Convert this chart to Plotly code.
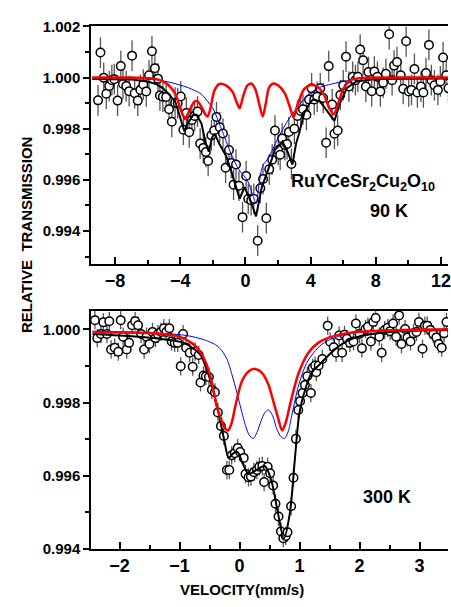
import plotly.graph_objects as go

# ---------------- data: top panel (90 K) ----------------
v90 = [-9.05, -8.90, -8.70, -8.54, -8.36, -8.20, -8.05, -7.85, -7.65, -7.52, -7.32, -7.14, -6.96, -6.80,
       -6.61, -6.45, -6.27, -6.09, -5.92, -5.74, -5.56, -5.37, -5.25, -5.07, -4.87, -4.69, -4.52, -4.32,
       -4.16, -3.97, -3.81, -3.63, -3.45, -3.29, -3.12, -2.94, -2.78, -2.59, -2.43, -2.29, -2.09, -1.92,
       -1.78, -1.58, -1.38, -1.22, -1.01, -0.87, -0.73, -0.58, -0.40, -0.18, 0.04, 0.17, 0.35, 0.51,
       0.75, 0.91, 1.08, 1.28, 1.46, 1.64, 1.81, 2.01, 2.13, 2.25, 2.42, 2.55, 2.66, 2.82, 3.00, 3.19,
       3.39, 3.53, 3.74, 3.90, 4.06, 4.22, 4.40, 4.59, 4.77, 4.95, 5.11, 5.32, 5.46, 5.66, 5.82, 6.00,
       6.17, 6.35, 6.58, 6.75, 6.90, 7.04, 7.22, 7.39, 7.55, 7.75, 7.91, 8.10, 8.28, 8.45, 8.62, 8.82,
       9.00, 9.12, 9.30, 9.53, 9.68, 9.86, 10.02, 10.19, 10.37, 10.55, 10.77, 10.92, 11.08, 11.26, 11.41,
       11.60, 11.81, 11.96, 12.13, 12.32, 12.46]
t90 = [0.99911, 1.00098, 0.99999, 0.99937, 0.99967, 0.99990, 0.99994, 0.99910, 1.00045, 0.99975, 0.99967,
       0.99947, 1.00086, 0.99939, 0.99910, 0.99952, 0.99973, 0.99946, 1.00009, 1.00103, 1.00037, 0.99996,
       0.99930, 0.99925, 0.99924, 0.99876, 0.99827, 0.99902, 0.99900, 0.99926, 0.99796, 0.99862, 0.99786,
       0.99834, 0.99850, 0.99867, 0.99742, 0.99725, 0.99709, 0.99674, 0.99774, 0.99793, 0.99846, 0.99806,
       0.99781, 0.99647, 0.99717, 0.99666, 0.99581, 0.99660, 0.99577, 0.99454, 0.99615, 0.99526, 0.99520,
       0.99526, 0.99362, 0.99567, 0.99603, 0.99450, 0.99641, 0.99679, 0.99793, 0.99717, 0.99698, 0.99762,
       0.99736, 0.99740, 0.99787, 0.99662, 0.99800, 0.99850, 0.99869, 0.99876, 0.99854, 0.99914, 0.99958,
       0.99914, 0.99925, 0.99958, 0.99920, 0.99745, 1.00045, 0.99895, 0.99780, 0.99793, 0.99932, 0.99970,
       1.00082, 0.99965, 1.00003, 0.99990, 1.00003, 1.00110, 1.00068, 0.99965, 1.00022, 0.99947, 1.00024,
       1.00003, 0.99946, 0.99980, 1.00015, 1.00170, 0.99990, 1.00047, 1.00061, 1.00009, 0.99956, 1.00142,
       0.99946, 0.99952, 1.00034, 0.99942, 0.99965, 0.99942, 1.00018, 1.00128, 0.99990, 0.99970, 0.99952,
       0.99985, 1.00079, 1.00009, 0.99958]
err90 = 0.0006

red90_v = [-9.4, -7.0, -5.5, -4.8, -4.3, -3.95, -3.7, -3.45, -3.15, -2.95, -2.7, -2.45, -2.32, -2.15, -1.9,
           -1.6, -1.2, -0.8, -0.55, -0.36, -0.15, 0.1, 0.35, 0.6, 0.85, 1.06, 1.25, 1.45, 1.7, 2.0, 2.4,
           2.7, 2.95, 3.2, 3.6, 4.0, 4.4, 4.8, 5.15, 5.42, 5.7, 6.0, 6.4, 7.0, 8.0, 12.45]
red90_t = [1.00000, 1.00000, 0.99995, 0.99975, 0.99935, 0.99870, 0.99838, 0.99870, 0.99905, 0.99908,
           0.99885, 0.99855, 0.99848, 0.99880, 0.99950, 0.99975, 0.99970, 0.99945, 0.99905, 0.99880,
           0.99925, 0.99968, 0.99977, 0.99955, 0.99895, 0.99848, 0.99900, 0.99962, 0.99977, 0.99970,
           0.99940, 0.99890, 0.99845, 0.99895, 0.99955, 0.99971, 0.99965, 0.99935, 0.99880, 0.99857,
           0.99900, 0.99955, 0.99988, 0.99998, 1.00000, 1.00000]

blk90_v = [-9.4, -7.0, -6.0, -5.5, -5.1, -4.7, -4.3, -4.0, -3.75, -3.5, -3.2, -3.0, -2.7, -2.45, -2.25,
           -2.05, -1.89, -1.6, -1.17, -0.9, -0.67, -0.36, -0.06, 0.3, 0.65, 0.85, 1.0, 1.36, 1.81, 2.27,
           2.55, 2.88, 3.1, 3.29, 3.6, 4.0, 4.2, 4.6, 5.0, 5.46, 5.8, 6.23, 6.8, 8.0, 12.45]
blk90_t = [0.99995, 0.99993, 0.99985, 0.99975, 0.99960, 0.99935, 0.99905, 0.99845, 0.99790, 0.99825,
           0.99855, 0.99855, 0.99820, 0.99745, 0.99710, 0.99765, 0.99781, 0.99740, 0.99691, 0.99640,
           0.99590, 0.99526, 0.99571, 0.99520, 0.99457, 0.99530, 0.99571, 0.99634, 0.99717, 0.99749,
           0.99715, 0.99660, 0.99740, 0.99781, 0.99860, 0.99907, 0.99915, 0.99905, 0.99870, 0.99831,
           0.99900, 0.99960, 0.99985, 0.99995, 0.99997]

blu90_v = [-9.4, -6.0, -4.8, -3.5, -2.7, -2.3, -2.0, -1.48, -0.87, -0.4, 0.1, 0.45, 0.65, 0.85, 1.06, 1.4,
           1.97, 2.58, 3.19, 3.8, 4.4, 5.5, 6.8, 8.0, 12.45]
blu90_t = [1.00000, 0.99995, 0.99984, 0.99960, 0.99935, 0.99905, 0.99880, 0.99800, 0.99700, 0.99640,
           0.99600, 0.99540, 0.99507, 0.99590, 0.99655, 0.99685, 0.99760, 0.99830, 0.99885, 0.99928,
           0.99958, 0.99978, 0.99994, 1.00000, 1.00000]

# ---------------- data: bottom panel (300 K) ----------------
v300 = [-2.41, -2.37, -2.31, -2.27, -2.21, -2.17, -2.14, -2.08, -2.02, -1.98, -1.94, -1.88, -1.84, -1.79,
        -1.74, -1.69, -1.64, -1.59, -1.55, -1.50, -1.45, -1.40, -1.36, -1.31, -1.26, -1.22, -1.17, -1.13,
        -1.08, -1.03, -0.98, -0.94, -0.89, -0.83, -0.78, -0.74, -0.68, -0.65, -0.60, -0.56, -0.51, -0.46,
        -0.41, -0.36, -0.31, -0.26, -0.21, -0.17, -0.13, -0.08, -0.03, 0.01, 0.07, 0.10, 0.15, 0.19, 0.24,
        0.29, 0.33, 0.38, 0.41, 0.47, 0.51, 0.56, 0.60, 0.65, 0.69, 0.73, 0.77, 0.80, 0.86, 0.90, 0.94,
        0.98, 1.01, 1.05, 1.09, 1.13, 1.19, 1.22, 1.26, 1.28, 1.32, 1.38, 1.47, 1.51, 1.57, 1.61, 1.66,
        1.71, 1.75, 1.79, 1.84, 1.90, 1.94, 2.00, 2.04, 2.10, 2.14, 2.19, 2.23, 2.27, 2.33, 2.37, 2.42,
        2.47, 2.51, 2.56, 2.61, 2.66, 2.70, 2.76, 2.80, 2.85, 2.90, 2.95, 2.99, 3.05, 3.09, 3.13, 3.18,
        3.23, 3.28, 3.32, 3.37, 3.41, 3.45]
t300 = [1.00025, 0.99976, 0.99987, 1.00019, 0.99987, 1.00022, 0.99945, 0.99950, 0.99939, 1.00025, 0.99980,
        0.99945, 0.99963, 1.00011, 1.00022, 1.00011, 0.99987, 0.99945, 0.99980, 0.99960, 0.99993, 0.99976,
        0.99987, 0.99993, 1.00003, 0.99993, 1.00003, 0.99967, 0.99963, 0.99963, 0.99899, 0.99987, 0.99950,
        0.99936, 0.99898, 0.99939, 0.99930, 0.99855, 0.99874, 0.99872, 0.99870, 0.99835, 0.99828, 0.99773,
        0.99736, 0.99709, 0.99616, 0.99616, 0.99656, 0.99662, 0.99676, 0.99665, 0.99649, 0.99605, 0.99596,
        0.99598, 0.99610, 0.99616, 0.99625, 0.99627, 0.99583, 0.99625, 0.99607, 0.99574, 0.99524, 0.99489,
        0.99448, 0.99430, 0.99436, 0.99446, 0.99517, 0.99595, 0.99701, 0.99780, 0.99804, 0.99826, 0.99848,
        0.99872, 0.99826, 0.99895, 0.99901, 0.99883, 0.99901, 0.99919, 1.00010, 0.99966, 0.99951, 0.99936,
        0.99983, 0.99936, 0.99985, 0.99974, 0.99963, 0.99967, 1.00016, 0.99987, 0.99948, 1.00001, 1.00007,
        0.99967, 1.00020, 1.00031, 0.99980, 0.99936, 0.99998, 1.00004, 0.99995, 1.00016, 0.99980, 1.00038,
        0.99960, 1.00001, 0.99978, 0.99967, 0.99989, 0.99993, 1.00020, 0.99947, 1.00010, 1.00010, 0.99998,
        0.99987, 0.99978, 0.99960, 0.99950, 0.99989, 1.00020]
err300 = 0.00025

red300_v = [-2.45, -1.5, -1.0, -0.8, -0.68, -0.55, -0.46, -0.38, -0.30, -0.24, -0.19, -0.13, -0.07, 0.04,
            0.15, 0.26, 0.38, 0.48, 0.57, 0.64, 0.71, 0.77, 0.85, 0.98, 1.14, 1.31, 1.5, 1.86, 2.5, 3.475]
red300_t = [0.99991, 0.99990, 0.99980, 0.99963, 0.99945, 0.99905, 0.99855, 0.99790, 0.99752, 0.99730,
            0.99724, 0.99745, 0.99790, 0.99858, 0.99885, 0.99892, 0.99880, 0.99850, 0.99800, 0.99760,
            0.99724, 0.99745, 0.99800, 0.99878, 0.99934, 0.99963, 0.99978, 0.99991, 0.99997, 1.00000]

blu300_v = [-2.45, -1.5, -0.88, -0.6, -0.4, -0.29, -0.2, -0.13, -0.04, 0.04, 0.10, 0.16, 0.23, 0.29, 0.36,
            0.42, 0.48, 0.55, 0.62, 0.69, 0.75, 0.81, 0.87, 0.93, 0.98, 1.06, 1.14, 1.31, 1.45, 1.78, 2.33,
            3.475]
blu300_t = [0.99995, 0.99991, 0.99983, 0.99972, 0.99958, 0.99941, 0.99915, 0.99879, 0.99825, 0.99773,
            0.99737, 0.99712, 0.99702, 0.99718, 0.99750, 0.99772, 0.99780, 0.99765, 0.99729, 0.99707,
            0.99702, 0.99720, 0.99764, 0.99810, 0.99844, 0.99885, 0.99914, 0.99950, 0.99967, 0.99987,
            0.99997, 1.00000]

blk300_v = [-2.45, -1.43, -0.93, -0.66, -0.55, -0.45, -0.35, -0.26, -0.18, -0.10, -0.03, 0.05, 0.15, 0.26,
            0.42, 0.53, 0.64, 0.74, 0.84, 0.92, 1.00, 1.11, 1.20, 1.34, 1.56, 1.78, 2.05, 2.6, 3.475]
blk300_t = [0.99987, 0.99976, 0.99963, 0.99932, 0.99892, 0.99840, 0.99773, 0.99702, 0.99649, 0.99662,
            0.99665, 0.99635, 0.99605, 0.99614, 0.99627, 0.99588, 0.99499, 0.99429, 0.99499, 0.99640,
            0.99773, 0.99844, 0.99880, 0.99905, 0.99941, 0.99967, 0.99983, 0.99994, 0.99998]

# ---------------- figure ----------------
W, H = 451, 607
L = 91
FONT = "Liberation Sans, Arial, sans-serif"
fig = go.Figure()

def add_panel(xa, ya, vx, ty, err, curves):
    fig.add_trace(go.Scatter(
        x=vx, y=ty, mode="markers", xaxis=xa, yaxis=ya, showlegend=False,
        marker=dict(symbol="circle", size=8.5, color="white", line=dict(color="black", width=1.5)),
        error_y=dict(type="constant", value=err, color="#555555", thickness=1.3, width=0),
    ))
    for cx, cy, col, w, shape in curves:
        fig.add_trace(go.Scatter(
            x=cx, y=cy, mode="lines", xaxis=xa, yaxis=ya, showlegend=False,
            line=dict(color=col, width=w, shape=shape, smoothing=0.8 if shape == "spline" else None),
        ))

add_panel("x", "y", v90, t90, err90, [
    (blu90_v, blu90_t, "#0000ff", 1, "spline"),
    (blk90_v, blk90_t, "black", 2, "linear"),
    (red90_v, red90_t, "#ff0000", 2.5, "spline"),
])
add_panel("x2", "y2", v300, t300, err300, [
    (blk300_v, blk300_t, "black", 2, "spline"),
    (blu300_v, blu300_t, "#0000ff", 1, "spline"),
    (red300_v, red300_t, "#ff0000", 2.5, "spline"),
])

xcommon = dict(showline=True, linecolor="black", linewidth=1.5, mirror=True, ticks="inside",
               ticklen=7, tickwidth=1.5, tickcolor="black", showgrid=False, zeroline=False,
               ticklabeloverflow="allow",
               tickfont=dict(family=FONT, size=18, color="black", weight="bold"))
ycommon = dict(showline=True, linecolor="black", linewidth=1.5, mirror=False, ticks="outside",
               ticklen=6, tickwidth=1.5, tickcolor="black", showgrid=False, zeroline=False,
               tickformat=".3f", dtick=0.002,
               tickfont=dict(family=FONT, size=15, color="black", weight="bold"),
               minor=dict(dtick=0.001, ticks="outside", ticklen=4, tickwidth=1.5, tickcolor="black"))

top_dom = [1 - 262 / H, 1 - 18 / H]
bot_dom = [1 - 555.7 / H, 1 - 310.7 / H]

fig.update_layout(
    width=W, height=H, margin=dict(l=L, r=0, t=0, b=0),
    paper_bgcolor="white", plot_bgcolor="white",
    xaxis=dict(xcommon, domain=[0, 1], range=[-9.48, 12.43], dtick=4, tick0=0, anchor="y",
               minor=dict(dtick=2, tick0=0, ticks="inside", ticklen=4, tickwidth=1.5, tickcolor="black")),
    yaxis=dict(ycommon, domain=top_dom, range=[0.99272, 1.002], anchor="x"),
    xaxis2=dict(xcommon, domain=[0, 1], range=[-2.475, 3.475], dtick=1, tick0=0, anchor="y2",
                minor=dict(dtick=0.5, tick0=0, ticks="inside", ticklen=4, tickwidth=1.5, tickcolor="black")),
    yaxis2=dict(ycommon, domain=bot_dom, range=[0.994, 1.0005], anchor="x2"),
)

def px(x):
    return (x - L) / (W - L)

def py(y):
    return 1 - y / H

ann_font = dict(family=FONT, size=18, color="black", weight="bold")
fig.add_annotation(x=px(26), y=py(233), xref="paper", yref="paper", text="RELATIVE  TRANSMISSION",
                   textangle=-90, showarrow=False, xanchor="center", yanchor="middle",
                   font=dict(family=FONT, size=15, color="black", weight="bold"))
fig.add_annotation(x=px(243), y=py(597), xref="paper", yref="paper",
                   text="VELOCITY(mm/s)", showarrow=False, xanchor="center", yanchor="middle",
                   font=dict(family=FONT, size=15, color="black", weight="bold"))
fig.add_annotation(x=px(365), y=py(179), xref="paper", yref="paper",
                   text="RuYCeSr<sub>2</sub>Cu<sub>2</sub>O<sub>10</sub>", showarrow=False,
                   xanchor="center", yanchor="middle", font=ann_font)
fig.add_annotation(x=px(392), y=py(208), xref="paper", yref="paper",
                   text="90 K", showarrow=False, xanchor="center", yanchor="middle", font=ann_font)
fig.add_annotation(x=px(389), y=py(502), xref="paper", yref="paper",
                   text="300 K", showarrow=False, xanchor="center", yanchor="middle", font=ann_font)

fig.write_html("out.html")
